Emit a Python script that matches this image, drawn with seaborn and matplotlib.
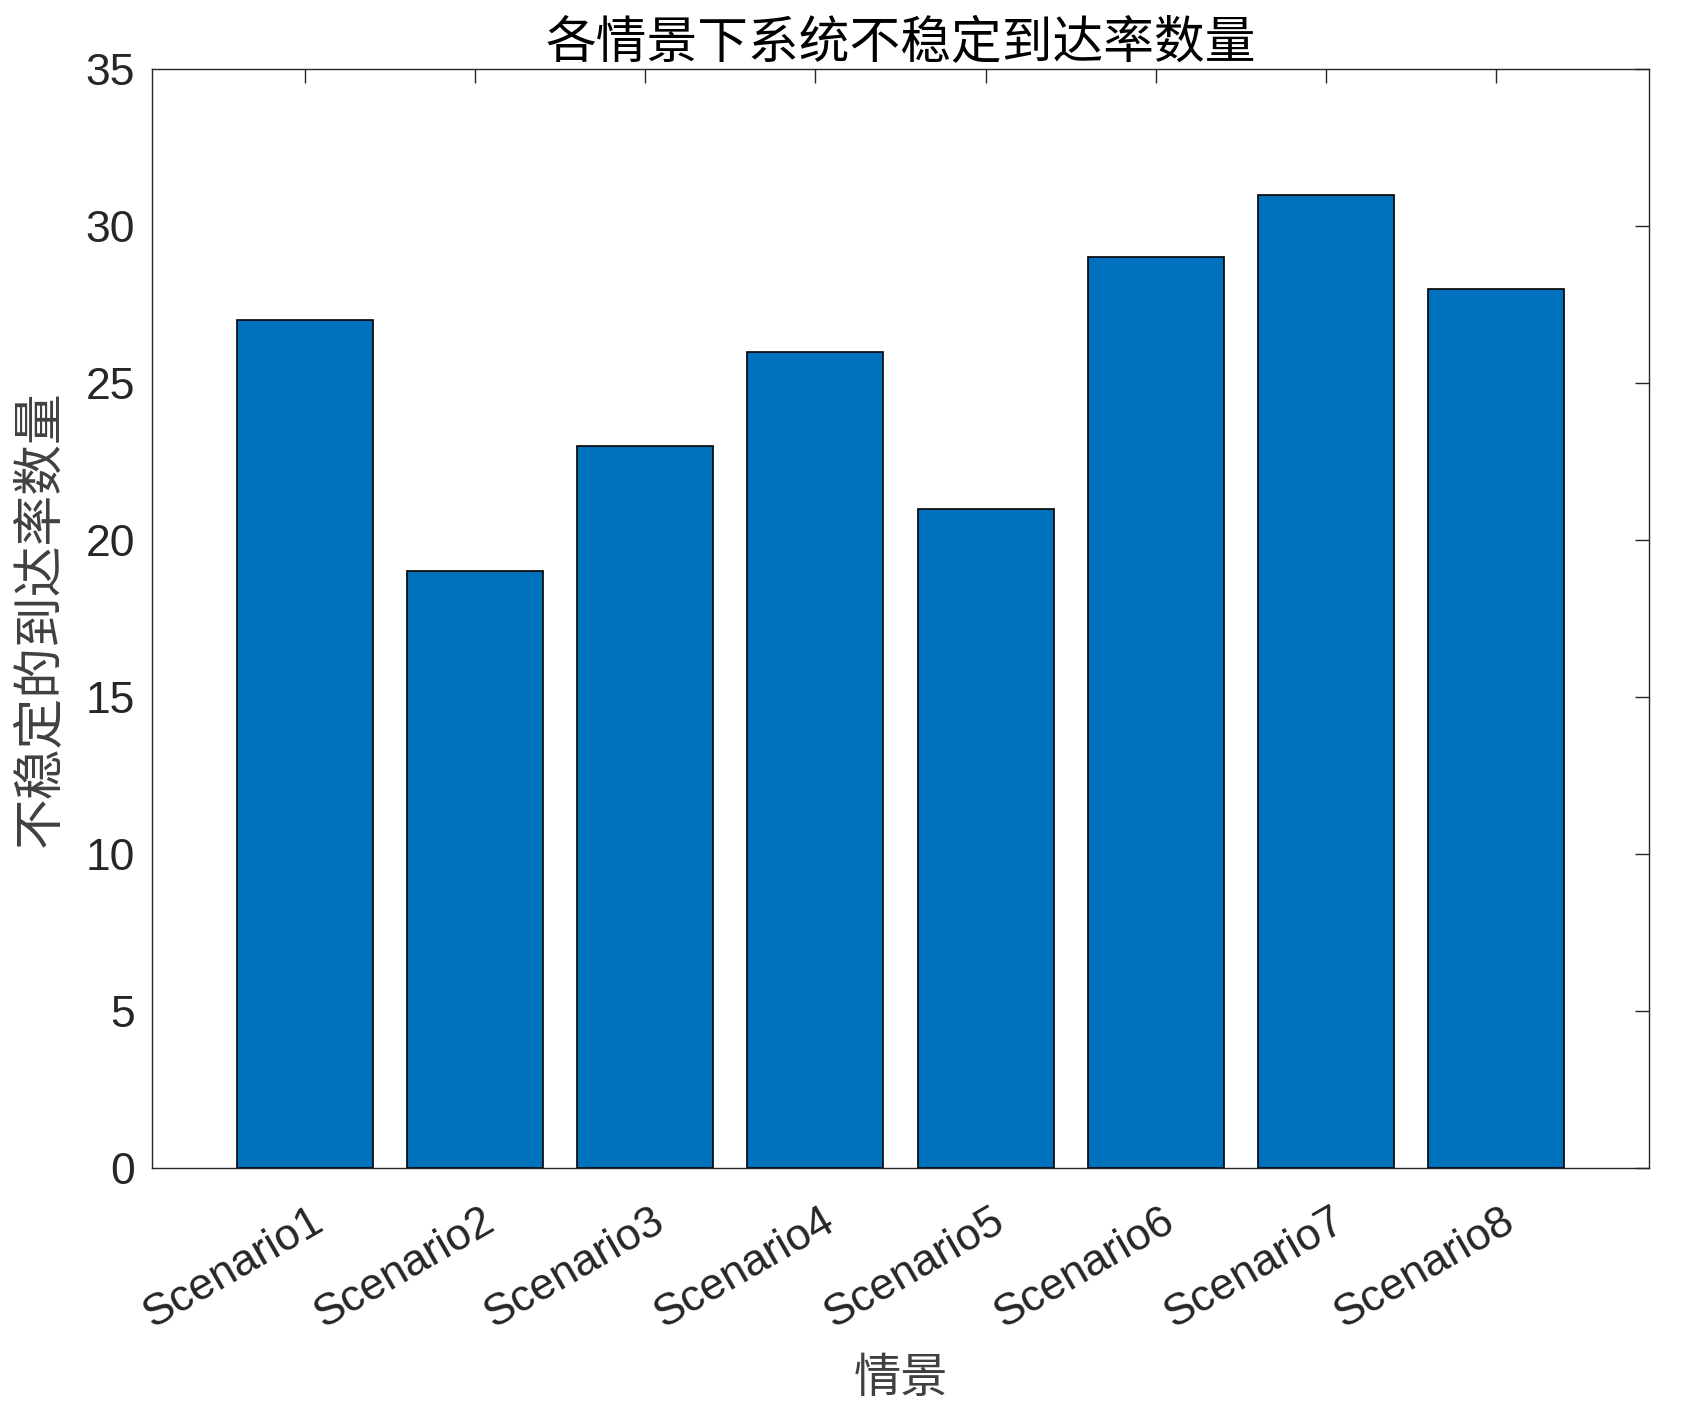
import matplotlib
matplotlib.use("Agg")
import matplotlib.pyplot as plt
import matplotlib.transforms as mtransforms
import seaborn as sns

# data
scenarios = ["Scenario1", "Scenario2", "Scenario3", "Scenario4",
             "Scenario5", "Scenario6", "Scenario7", "Scenario8"]
counts = [27, 19, 23, 26, 21, 29, 31, 28]
yticks = [0, 5, 10, 15, 20, 25, 30, 35]

sns.set_style("white")
plt.rcParams["font.family"] = ["Liberation Sans", "Noto Sans CJK SC", "DejaVu Sans"]

axis_color = "#262626"
cjk = ["Noto Sans CJK SC", "DejaVu Sans"]

fig = plt.figure(figsize=(16.89, 14.10), dpi=100)
ax = fig.add_axes([0.090, 0.1716, 0.8863, 0.7795])

sns.barplot(x=scenarios, y=counts, color="#0072BD", saturation=1, width=0.8,
            edgecolor="black", linewidth=1.2, ax=ax)

ax.set_xlim(-0.9, 7.9)
ax.set_ylim(0, 35)
ax.set_yticks(yticks)

# MATLAB-like box with inward ticks on all sides
for s in ax.spines.values():
    s.set_visible(True)
    s.set_color(axis_color)
    s.set_linewidth(1.0)
ax.tick_params(direction="in", length=10, width=1.0, colors=axis_color,
               top=True, right=True, labelsize=32)
ax.tick_params(axis="y", pad=12)
ax.tick_params(axis="x", pad=36)

for lbl in ax.get_xticklabels():
    lbl.set_rotation(30)
    lbl.set_ha("right")
    lbl.set_va("center")
    lbl.set_rotation_mode("anchor")
    lbl.set_transform(lbl.get_transform() +
                      mtransforms.ScaledTranslation(0.16, 0, fig.dpi_scale_trans))

ax.set_title("各情景下系统不稳定到达率数量", fontsize=36.5, family=cjk,
             color="black", pad=8)
ax.set_xlabel("情景", fontsize=34, family=cjk, color="#404040")
ax.set_ylabel("不稳定的到达率数量", fontsize=36.5, family=cjk, color="#404040")
ax.xaxis.set_label_coords(0.5, -0.17)
ax.yaxis.set_label_coords(-0.057, 0.5)

fig.savefig("out.png", dpi=100)
